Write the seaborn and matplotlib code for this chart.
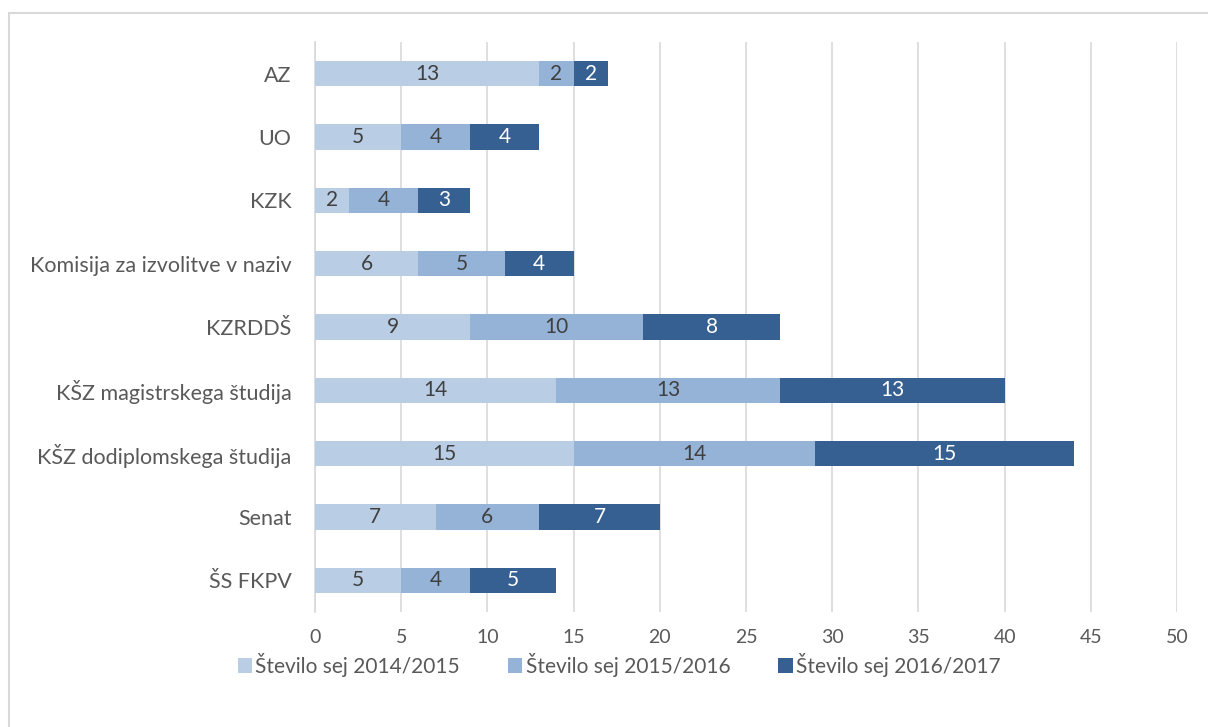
import numpy as np
import pandas as pd
import matplotlib
matplotlib.use("Agg")
import matplotlib.pyplot as plt
import seaborn as sns
from matplotlib.patches import Rectangle, Patch

categories = ["AZ", "UO", "KZK", "Komisija za izvolitve v naziv", "KZRDDŠ",
              "KŠZ magistrskega študija", "KŠZ dodiplomskega študija", "Senat", "ŠS FKPV"]
s2014 = [13, 5, 2, 6, 9, 14, 15, 7, 5]
s2015 = [2, 4, 4, 5, 10, 13, 14, 6, 4]
s2016 = [2, 4, 3, 4, 8, 13, 15, 7, 5]
series_names = ["Število sej 2014/2015", "Število sej 2015/2016", "Število sej 2016/2017"]
colors = ["#B9CDE5", "#95B3D7", "#376092"]
text_colors = ["#404040", "#404040", "#FFFFFF"]

sns.set_theme(style="white")
plt.rcParams['font.family'] = ['Lato', 'DejaVu Sans']

df = pd.DataFrame({"cat": categories, "a": s2014, "b": s2015, "c": s2016})
df["c1"] = df["a"]
df["c2"] = df["a"] + df["b"]
df["c3"] = df["c2"] + df["c"]

fig = plt.figure(figsize=(12.08, 7.27), dpi=100)
fig.patches.append(Rectangle((8.5/1208, -0.05), 1.2, (1-12.5/727) + 0.05, transform=fig.transFigure,
                             fill=False, edgecolor="#D9D9D9", linewidth=1.5))
ax = fig.add_axes([315/1208, 1-612/727, 862/1208, 570/727])

for col, color in zip(["c3", "c2", "c1"], colors[::-1]):
    sns.barplot(data=df, y="cat", x=col, color=color, orient="h", width=0.4,
                saturation=1, ax=ax, linewidth=0, zorder=3)

vals = [s2014, s2015, s2016]
for i in range(len(categories)):
    left = 0
    for k in range(3):
        v = vals[k][i]
        ax.text(left + v/2, i, str(v), ha="center", va="center", fontsize=15,
                color=text_colors[k], zorder=4)
        left += v

ax.set_xlim(0, 50)
ax.set_ylim(len(categories) - 0.5, -0.5)
ax.set_xticks(range(0, 51, 5))
ax.xaxis.grid(True, color="#D9D9D9", linewidth=1.2, zorder=0)
ax.set_axisbelow(True)
for s in ax.spines.values():
    s.set_visible(False)
ax.spines["left"].set_visible(True)
ax.spines["left"].set_color("#D9D9D9")
ax.set_xlabel("")
ax.set_ylabel("")
ax.tick_params(axis="both", length=0, labelsize=14, labelcolor="#595959")
ax.tick_params(axis="y", labelsize=15.5, pad=17)
ax.tick_params(axis="x", pad=12)

handles = [Patch(facecolor=c, edgecolor="none") for c in colors]
fig.legend(handles, series_names, loc="center", bbox_to_anchor=(619/1208, 1-665/727),
           ncol=3, frameon=False, fontsize=15, handlelength=0.7, handleheight=0.7,
           handletextpad=0.15, columnspacing=2.3, labelcolor="#595959")

fig.savefig("out.png", dpi=100, facecolor="white")
